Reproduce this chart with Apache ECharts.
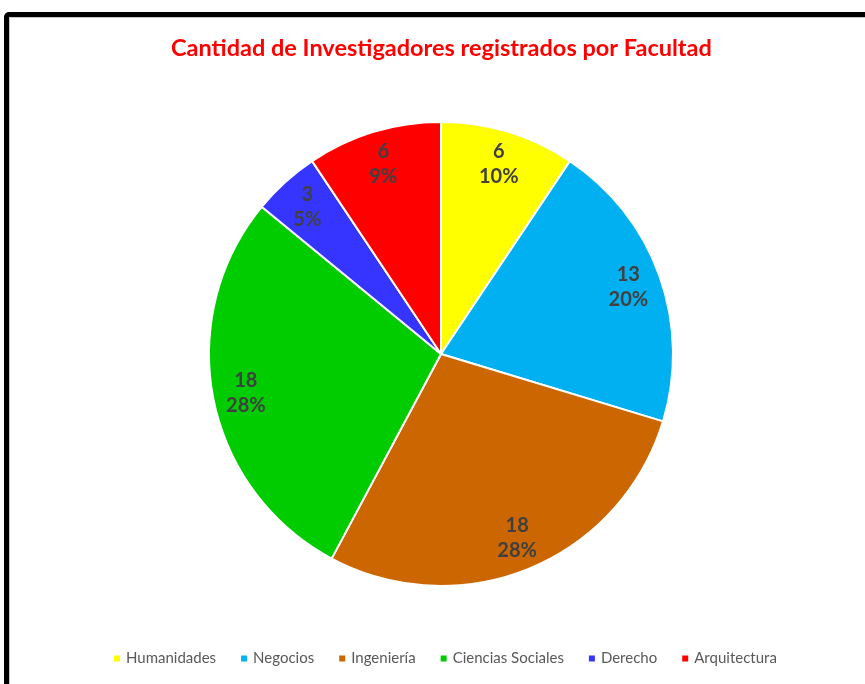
<!DOCTYPE html>
<html>
<head>
<meta charset="utf-8">
<script src="https://cdn.jsdelivr.net/npm/echarts@6/dist/echarts.min.js"></script>
<style>
  html, body { margin: 0; padding: 0; background: #fff; }
  .frame {
    position: absolute;
    left: 4px;
    top: 12px;
    width: 900px;
    height: 720px;
    border: 5px solid #000;
    border-radius: 5px;
    box-shadow: inset 1px 1px 0 #c8c8c8;
  }
  #chart {
    position: absolute;
    left: 0;
    top: 0;
    width: 865px;
    height: 684px;
  }
</style>
</head>
<body>
<div class="frame"></div>
<div id="chart"></div>
<script>
const categories = ["Humanidades", "Negocios", "Ingeniería", "Ciencias Sociales", "Derecho", "Arquitectura"];
const values = [6, 13, 18, 18, 3, 6];
const colors = ["#ffff00", "#00b0f0", "#cc6600", "#00cc00", "#3535ff", "#ff0000"];

const pieData = categories.map((name, i) => ({
  name,
  value: values[i],
  itemStyle: { color: colors[i] },
}));

const chart = echarts.init(document.getElementById("chart"));

chart.setOption({
  animation: false,
  title: {
    text: "Cantidad de Investigadores registrados por Facultad",
    left: 166,
    top: 31,
    textStyle: {
      fontFamily: "Lato",
      fontWeight: "bold",
      fontSize: 23.5,
      color: "#ff0000",
    },
  },
  legend: {
    data: categories,
    bottom: 13,
    left: 107,
    icon: "rect",
    itemWidth: 8,
    itemHeight: 8,
    itemGap: 23,
    textStyle: {
      fontFamily: "Lato",
      fontSize: 15,
      color: "#595959",
    },
  },
  series: [
    {
      type: "pie",
      center: [441, 354],
      radius: [0, 232],
      startAngle: 90,
      clockwise: true,
      silent: true,
      label: { show: false },
      labelLine: { show: false },
      itemStyle: { borderColor: "#fff", borderWidth: 2 },
      data: pieData,
    },
    {
      // label ring: same data, invisible, so the labels sit near the rim
      type: "pie",
      center: [441, 354],
      radius: [160, 232],
      startAngle: 90,
      clockwise: true,
      silent: true,
      percentPrecision: 0,
      itemStyle: { color: "rgba(0,0,0,0)" },
      label: {
        show: true,
        position: "inside",
        formatter: "{c}\n{d}%",
        fontFamily: "Lato",
        fontWeight: "bold",
        fontSize: 20,
        lineHeight: 25,
        color: "#404040",
      },
      labelLine: { show: false },
      data: categories.map((name, i) => ({ name, value: values[i] })),
    },
  ],
});
</script>
</body>
</html>
